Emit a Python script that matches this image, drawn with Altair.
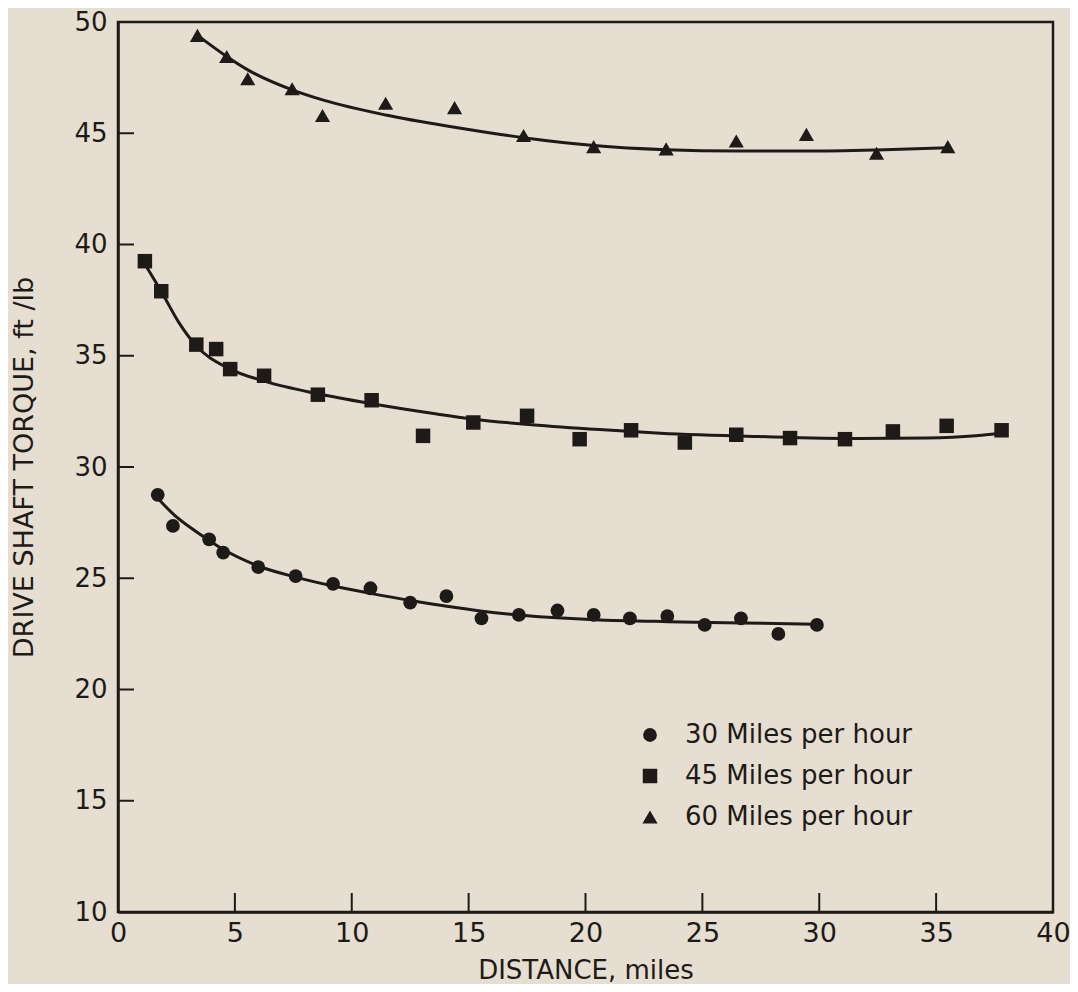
import altair as alt
import pandas as pd

# ---- data ----
labels = ["30 Miles per hour", "45 Miles per hour", "60 Miles per hour"]

x30 = [1.7, 2.35, 3.9, 4.5, 6.0, 7.6, 9.2, 10.8, 12.5, 14.05, 15.55, 17.15, 18.8, 20.35, 21.9, 23.5, 25.1, 26.65, 28.25, 29.9]
y30 = [28.75, 27.35, 26.75, 26.15, 25.5, 25.1, 24.75, 24.55, 23.9, 24.2, 23.2, 23.35, 23.55, 23.35, 23.2, 23.3, 22.9, 23.2, 22.5, 22.9]

x45 = [1.15, 1.85, 3.35, 4.2, 4.8, 6.25, 8.55, 10.85, 13.05, 15.2, 17.5, 19.75, 21.95, 24.25, 26.45, 28.75, 31.1, 33.15, 35.45, 37.8]
y45 = [39.25, 37.9, 35.5, 35.3, 34.4, 34.1, 33.25, 33.0, 31.4, 32.0, 32.3, 31.25, 31.65, 31.1, 31.45, 31.3, 31.25, 31.6, 31.85, 31.65]

x60 = [3.4, 4.65, 5.55, 7.45, 8.75, 11.45, 14.4, 17.35, 20.35, 23.45, 26.45, 29.45, 32.45, 35.5]
y60 = [49.4, 48.45, 47.45, 47.0, 45.8, 46.35, 46.15, 44.9, 44.4, 44.3, 44.65, 44.95, 44.1, 44.4]

# fitted curves
c30x = [1.7, 2.4, 3.2, 3.9, 4.5, 6.0, 7.6, 9.2, 10.8, 12.5, 14.0, 15.5, 17.1, 19.2, 20.4, 23.5, 26.7, 29.9]
c30y = [28.6, 27.85, 27.2, 26.7, 26.3, 25.55, 25.05, 24.65, 24.32, 24.0, 23.75, 23.53, 23.35, 23.2, 23.14, 23.05, 22.99, 22.93]

c45x = [1.1, 1.9, 2.6, 3.3, 4.8, 6.3, 8.5, 10.8, 13.5, 15.2, 17.7, 20.6, 23.2, 27.4, 31.7, 34.6, 36.7, 38.0]
c45y = [39.2, 37.8, 36.5, 35.5, 34.4, 33.85, 33.3, 32.85, 32.4, 32.15, 31.9, 31.68, 31.52, 31.37, 31.28, 31.3, 31.4, 31.55]

c60x = [3.4, 4.65, 5.55, 7.45, 8.75, 11.45, 14.4, 17.35, 20.35, 23.45, 26.45, 29.45, 32.45, 35.5]
c60y = [49.4, 48.45, 47.85, 46.95, 46.5, 45.82, 45.27, 44.8, 44.45, 44.26, 44.2, 44.2, 44.25, 44.35]

x_ticks = [0, 5, 10, 15, 20, 25, 30, 35, 40]
y_ticks = [10, 15, 20, 25, 30, 35, 40, 45, 50]

# ---- build tables ----
pts = pd.DataFrame(
    [(x, y, labels[0]) for x, y in zip(x30, y30)]
    + [(x, y, labels[1]) for x, y in zip(x45, y45)]
    + [(x, y, labels[2]) for x, y in zip(x60, y60)],
    columns=["dist", "torque", "series"],
)
curves = pd.DataFrame(
    [(x, y, labels[0]) for x, y in zip(c30x, c30y)]
    + [(x, y, labels[1]) for x, y in zip(c45x, c45y)]
    + [(x, y, labels[2]) for x, y in zip(c60x, c60y)],
    columns=["dist", "torque", "series"],
)
xt = pd.DataFrame({"v": x_ticks[1:-1]})
yt = pd.DataFrame({"v": y_ticks[1:-1]})

INK = "#1e1a17"
BG = "#e5ded1"
FONT = "DejaVu Sans"
W, H = 935, 890

xscale = alt.Scale(domain=[0, 40], nice=False, zero=False)
yscale = alt.Scale(domain=[10, 50], nice=False, zero=False)

xaxis = alt.Axis(
    values=x_ticks, ticks=False, tickSize=0, grid=False, labelFlush=False, labelOverlap=False,
    labelPadding=8, labelFontSize=27, labelFont=FONT, labelColor=INK,
    domainColor=INK, domainWidth=2.5,
    title="DISTANCE, miles", titleFont=FONT, titleFontSize=26, titleFontWeight="normal",
    titleColor=INK, titleX=W / 2, titleY=58, titleBaseline="middle", titleAlign="center",
)
yaxis = alt.Axis(
    values=y_ticks, ticks=False, tickSize=0, grid=False, labelOverlap=False,
    labelPadding=11, labelFontSize=26, labelFont=FONT, labelColor=INK,
    domainColor=INK, domainWidth=2.5,
    title="DRIVE SHAFT TORQUE, ft /lb", titleFont=FONT, titleFontSize=27, titleFontWeight="normal",
    titleColor=INK, titleX=-94, titleY=445, titleAngle=270, titleBaseline="middle", titleAlign="center",
)

lines = alt.Chart(curves).mark_line(color=INK, strokeWidth=3, interpolate="monotone").encode(
    x=alt.X("dist:Q", scale=xscale, axis=xaxis),
    y=alt.Y("torque:Q", scale=yscale, axis=yaxis),
    detail="series:N",
)

legend = alt.Legend(
    orient="none", legendX=519, legendY=700, title=None,
    labelFont=FONT, labelFontSize=26, labelColor=INK, labelOffset=22,
    symbolFillColor=INK, symbolStrokeColor=INK, symbolStrokeWidth=0,
    rowPadding=15, padding=0, labelLimit=400,
)

points = alt.Chart(pts).mark_point(filled=True, color=INK, opacity=1, strokeWidth=0).encode(
    x=alt.X("dist:Q", scale=xscale),
    y=alt.Y("torque:Q", scale=yscale),
    shape=alt.Shape(
        "series:N",
        scale=alt.Scale(domain=labels, range=["circle", "square", "triangle-up"]),
        legend=legend,
    ),
    size=alt.Size(
        "series:N",
        scale=alt.Scale(domain=labels, range=[190, 230, 340]),
        legend=legend,
    ),
)

xtick_rules = alt.Chart(xt).mark_rule(color=INK, strokeWidth=2).encode(
    x=alt.X("v:Q", scale=xscale),
    y=alt.value(H),
    y2=alt.value(H - 19),
)
ytick_rules = alt.Chart(yt).mark_rule(color=INK, strokeWidth=2).encode(
    y=alt.Y("v:Q", scale=yscale),
    x=alt.value(0),
    x2=alt.value(16),
)

chart = (
    alt.layer(lines, xtick_rules, ytick_rules, points)
    .properties(
        width=W,
        height=H,
        background=BG,
        padding={"left": 110, "top": 14, "right": 17, "bottom": 72},
        autosize=alt.AutoSizeParams(type="none"),
    )
    .configure_view(stroke=INK, strokeWidth=2.5)
)

chart.save("out.html", embed_options={"renderer": "svg", "actions": False})
